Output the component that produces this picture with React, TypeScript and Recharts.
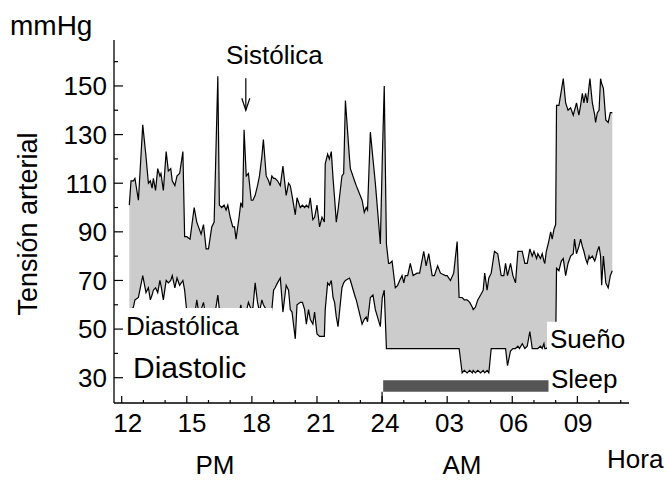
import React from "react";
import {
  ComposedChart,
  Area,
  Line,
  XAxis,
  YAxis,
  ReferenceArea,
  ReferenceLine,
} from "recharts";

// hours since midnight of day 1 (24 = midnight, 33 = 09 h next day)
const hours = [
  12.35, 12.43, 12.54, 12.61, 12.77, 12.97, 13.12, 13.23, 13.32, 13.4, 13.46, 13.56, 13.66, 13.76, 13.81, 13.92,
  14.05, 14.15, 14.26, 14.33, 14.45, 14.55, 14.67, 14.82, 14.9, 15.0, 15.15, 15.34, 15.46, 15.58, 15.66, 15.77,
  15.89, 16.0, 16.15, 16.26, 16.43, 16.5, 16.61, 16.72, 16.81, 16.89, 17.0, 17.12, 17.2, 17.27, 17.41, 17.49,
  17.57, 17.64, 17.74, 17.84, 17.97, 18.05, 18.15, 18.26, 18.35, 18.46, 18.53, 18.66, 18.77, 18.84, 18.92, 19.0,
  19.07, 19.18, 19.31, 19.43, 19.58, 19.69, 19.77, 19.85, 20.0, 20.08, 20.23, 20.33, 20.43, 20.51, 20.61, 20.69,
  20.81, 20.89, 21.0, 21.12, 21.23, 21.34, 21.38, 21.49, 21.57, 21.66, 21.74, 21.81, 21.89, 21.97, 22.15, 22.23,
  22.31, 22.5, 22.54, 22.77, 22.81, 23.08, 23.18, 23.27, 23.33, 23.46, 23.58, 23.69, 23.92, 24.01, 24.1, 24.2,
  24.3, 24.35, 24.46, 24.61, 24.72, 24.81, 24.92, 25.0, 25.07, 25.18, 25.3, 25.43, 25.61, 25.73, 25.92, 26.03,
  26.15, 26.31, 26.41, 26.56, 26.69, 26.92, 27.0, 27.15, 27.3, 27.46, 27.55, 27.69, 27.79, 27.92, 28.04, 28.16,
  28.2, 28.3, 28.41, 28.54, 28.66, 28.73, 28.84, 28.92, 29.03, 29.18, 29.33, 29.49, 29.61, 29.69, 29.78, 29.92,
  30.03, 30.15, 30.26, 30.33, 30.46, 30.58, 30.69, 30.81, 30.92, 31.0, 31.12, 31.18, 31.3, 31.38, 31.46, 31.5,
  31.57, 31.68, 31.77, 31.84, 31.92, 32.0, 32.04, 32.15, 32.26, 32.35, 32.46, 32.57, 32.69, 32.81, 32.87, 32.96,
  33.07, 33.15, 33.23, 33.3, 33.38, 33.46, 33.54, 33.58, 33.69, 33.8, 33.84, 33.92, 34.0, 34.07, 34.12, 34.2,
  34.31, 34.42, 34.52, 34.61,
];

const systolic = [
  101, 111, 111, 112, 103, 134, 121, 110, 111, 108, 112, 107, 116, 113, 114, 107,
  123, 115, 116, 111, 109, 113, 114, 123, 88, 88, 87, 100, 94, 91, 89, 93,
  83, 83, 92, 94, 154, 101, 100, 101, 99, 101, 96, 92, 92, 87, 96, 102,
  100, 132, 113, 114, 103, 103, 105, 109, 113, 121, 128, 113, 111, 109, 113, 112,
  112, 111, 109, 117, 105, 110, 109, 105, 97, 104, 100, 101, 100, 101, 100, 104,
  95, 96, 101, 92, 96, 94, 118, 122, 120, 123, 112, 104, 94, 99, 113, 114,
  144, 120, 116, 110, 109, 103, 98, 100, 99, 131, 120, 110, 85, 120, 150, 85,
  77, 77, 78, 67, 68, 70, 72, 69, 72, 72, 77, 72, 73, 73, 82, 76,
  81, 72, 72, 76, 73, 72, 72, 70, 73, 86, 63, 63, 62, 62, 61, 59,
  58, 59, 62, 64, 66, 73, 66, 71, 73, 82, 81, 72, 72, 77, 72, 77,
  72, 69, 82, 82, 82, 77, 77, 83, 80, 82, 79, 81, 79, 81, 78, 77,
  82, 86, 90, 87, 91, 93, 142, 142, 148, 153, 143, 140, 141, 138, 140, 143,
  138, 142, 147, 143, 147, 143, 150, 153, 143, 138, 135, 139, 140, 153, 151, 149,
  136, 135, 139, 139,
];

const diastolic = [
  57, 58, 59, 62, 63, 72, 65, 67, 62, 64, 66, 67, 65, 70, 68, 62,
  70, 69, 70, 72, 67, 71, 68, 70, 66, 57, 55, 54, 62, 55, 58, 61,
  54, 52, 56, 54, 64, 58, 55, 52, 56, 54, 53, 55, 52, 54, 56, 60,
  55, 56, 57, 61, 58, 59, 69, 61, 57, 62, 60, 58, 57, 56, 58, 66,
  67, 69, 71, 57, 68, 66, 58, 57, 46, 60, 61, 61, 58, 52, 58, 54,
  52, 57, 48, 47, 47, 47, 58, 69, 68, 70, 63, 61, 55, 51, 67, 69,
  70, 71, 70, 63, 62, 52, 54, 55, 53, 63, 64, 58, 51, 63, 66, 42,
  42, 42, 42, 42, 42, 42, 42, 42, 42, 42, 42, 42, 42, 42, 42, 42,
  42, 42, 42, 42, 42, 42, 42, 42, 42, 42, 42, 32, 33, 32, 33, 32,
  33, 32, 33, 32, 33, 32, 33, 32, 42, 42, 42, 42, 42, 42, 35, 41,
  42, 42, 43, 42, 44, 42, 43, 49, 42, 42, 42, 42, 43, 42, 44, 42,
  42, 43, 43, 43, 43, 43, 75, 74, 78, 79, 72, 77, 80, 81, 87, 81,
  84, 87, 84, 82, 79, 77, 80, 79, 80, 78, 79, 82, 84, 80, 68, 80,
  69, 67, 72, 74,
];

const hourTicks = [12, 13, 14, 15, 16, 17, 18, 19, 20, 21, 22, 23, 24, 25, 26, 27, 28, 29, 30, 31, 32, 33, 34, 35];
const pressureTicks = [30, 40, 50, 60, 70, 80, 90, 100, 110, 120, 130, 140, 150, 160];

const rows = hours.map((t, i) => ({
  t,
  sys: systolic[i],
  dia: diastolic[i],
  band: [diastolic[i], systolic[i]],
}));

const FONT = "'Liberation Sans', Arial, sans-serif";

function YTick({ x, y, payload }: any) {
  const v = payload.value;
  const major = (v - 30) % 20 === 0;
  return (
    <g>
      <line x1={x} x2={x + (major ? 9 : 4)} y1={y} y2={y} stroke="#000" strokeWidth={1.2} />
      {major && (
        <text x={x - 7} y={y} dy="0.36em" textAnchor="end" fontSize={26} fill="#000" fontFamily={FONT}>
          {v}
        </text>
      )}
    </g>
  );
}

function XTick({ x, y, payload }: any) {
  const h = payload.value;
  const major = h % 3 === 0;
  const label = h === 24 ? "24" : String(h % 24).padStart(2, "0");
  // the printed labels drift slightly right of their ticks on the left side
  const shift = 6 - 0.25 * (h - 12);
  return (
    <g>
      <line x1={x} x2={x} y1={y} y2={y - (major ? 7 : 3)} stroke="#000" strokeWidth={1.2} />
      {major && (
        <text x={x + shift} y={y + 29} textAnchor="middle" fontSize={26} fill="#000" fontFamily={FONT}>
          {label}
        </text>
      )}
    </g>
  );
}

function Arrow(p: any) {
  const { x1, y1, x2, y2 } = p;
  return (
    <g>
      <line x1={x1} y1={y1} x2={x2} y2={y2} stroke="#000" strokeWidth={1.2} />
      <polyline
        points={`${x2 - 4},${y2 - 12} ${x2},${y2} ${x2 + 4},${y2 - 12}`}
        fill="none"
        stroke="#000"
        strokeWidth={1.2}
      />
    </g>
  );
}

export default function App() {
  return (
    <div style={{ position: "relative", width: 668, height: 481, fontFamily: FONT, background: "#fff" }}>
      <style>{"body{margin:0}"}</style>
      <ComposedChart width={668} height={481} data={rows} margin={{ top: 40, right: 39, bottom: 48, left: 54 }}>
        <XAxis
          dataKey="t"
          type="number"
          domain={[11.645, 35.38]}
          allowDataOverflow
          ticks={hourTicks}
          interval={0}
          tickSize={0}
          tickMargin={0}
          height={30}
          tick={<XTick />}
          axisLine={{ stroke: "#000", strokeWidth: 1.3 }}
        />
        <YAxis
          type="number"
          domain={[19.6, 168.9]}
          allowDataOverflow
          ticks={pressureTicks}
          interval={0}
          tickSize={0}
          tickMargin={0}
          width={60}
          tick={<YTick />}
          axisLine={{ stroke: "#000", strokeWidth: 1.3 }}
        />
        <Area
          type="linear"
          dataKey="band"
          stroke="none"
          fill="#cccccc"
          fillOpacity={1}
          isAnimationActive={false}
        />
        <Line type="linear" dataKey="sys" stroke="#000" strokeWidth={1.2} dot={false} isAnimationActive={false} />
        <Line type="linear" dataKey="dia" stroke="#000" strokeWidth={1.2} dot={false} isAnimationActive={false} />
        {/* white backgrounds behind the in-plot labels */}
        <ReferenceArea x1={12.16} x2={18.95} y1={43} y2={58.7} fill="#fff" fillOpacity={1} stroke="none" zIndex={1000} />
        <ReferenceArea x1={31.6} x2={35.2} y1={37} y2={53} fill="#fff" fillOpacity={1} stroke="none" zIndex={1000} />
        {/* sleep period */}
        <ReferenceArea x1={24.05} x2={31.67} y1={24.2} y2={29} fill="#555555" fillOpacity={1} stroke="none" zIndex={1000} />
        <ReferenceLine segment={[{ x: 24, y: 19.6 }, { x: 24, y: 24.2 }]} stroke="#000" strokeWidth={1.2} />
        <ReferenceLine segment={[{ x: 17.72, y: 153.2 }, { x: 17.72, y: 140 }]} shape={<Arrow />} />
      </ComposedChart>
      <svg
        width={668}
        height={481}
        style={{ position: "absolute", left: 0, top: 0, pointerEvents: "none" }}
        fontFamily={FONT}
        fill="#000"
      >
        <text x={10} y={35} fontSize={28}>mmHg</text>
        <text x={37} y={224} fontSize={27} textAnchor="middle" transform="rotate(-90 37 224)">
          Tensión arterial
        </text>
        <text x={226} y={64} fontSize={26}>Sistólica</text>
        <text x={126} y={335} fontSize={26}>Diastólica</text>
        <text x={133} y={378} fontSize={30}>Diastolic</text>
        <text x={550} y={348} fontSize={26}>Sueño</text>
        <text x={551} y={388} fontSize={26}>Sleep</text>
        <text x={215} y={474} fontSize={26} textAnchor="middle">PM</text>
        <text x={462} y={474} fontSize={26} textAnchor="middle">AM</text>
        <text x={607} y={468} fontSize={26}>Hora</text>
      </svg>
    </div>
  );
}
